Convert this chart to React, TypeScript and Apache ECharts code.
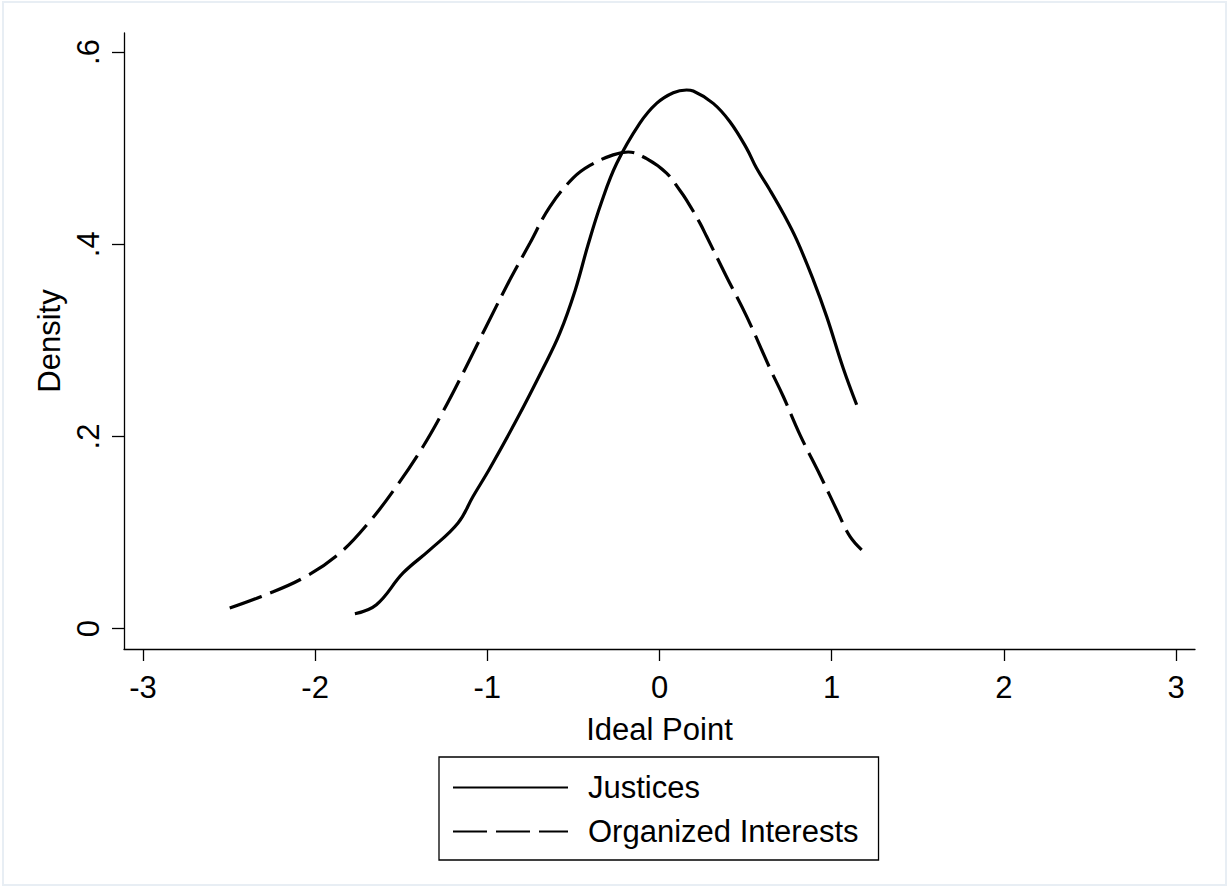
import React, { useEffect, useRef } from "react";
import * as echarts from "echarts";

const seriesNames = ["Justices", "Organized Interests"];

const justicesX = [-1.769, -1.644, -1.489, -1.334, -1.17, -1.083, -0.985, -0.83, -0.676, -0.579, -0.49, -0.414, -0.339, -0.249, -0.114, -0.017, 0.08, 0.157, 0.196, 0.312, 0.409, 0.506, 0.564, 0.641, 0.719, 0.797, 0.893, 0.971, 1.067, 1.145];
const justicesY = [0.0156, 0.025, 0.058, 0.082, 0.11, 0.1376, 0.167, 0.2173, 0.271, 0.3075, 0.352, 0.4, 0.4427, 0.484, 0.526, 0.5466, 0.5577, 0.5605, 0.5594, 0.5466, 0.5275, 0.4998, 0.479, 0.4565, 0.432, 0.4045, 0.363, 0.3247, 0.271, 0.233];

const interestsX = [-2.496, -2.312, -2.07, -1.857, -1.683, -1.528, -1.373, -1.257, -1.141, -1.005, -0.869, -0.753, -0.637, -0.501, -0.404, -0.269, -0.182, -0.075, 0.041, 0.119, 0.157, 0.235, 0.274, 0.39, 0.506, 0.641, 0.719, 0.816, 0.932, 1.038, 1.106, 1.174];
const interestsY = [0.0215, 0.0336, 0.0527, 0.0787, 0.1116, 0.148, 0.1896, 0.226, 0.266, 0.315, 0.363, 0.401, 0.439, 0.469, 0.482, 0.493, 0.496, 0.489, 0.474, 0.456, 0.446, 0.422, 0.408, 0.366, 0.325, 0.271, 0.2416, 0.2017, 0.16, 0.1203, 0.096, 0.082];

const xTickValues = [-3, -2, -1, 0, 1, 2, 3];
const yTickValues = [0, 0.2, 0.4, 0.6];
const yTickLabels = ["0", ".2", ".4", ".6"];

const FONT = "'Liberation Sans', Arial, Helvetica, sans-serif";

export default function App() {
  const ref = useRef<HTMLDivElement>(null);
  useEffect(() => {
    if (!ref.current) return;
    const chart = echarts.init(ref.current, null, { renderer: "svg" });
    const pair = (xs: number[], ys: number[]) => xs.map((x, i) => [x, ys[i]]);
    chart.setOption({
      animation: false,
      backgroundColor: "#ffffff",
      textStyle: { fontFamily: FONT },
      graphic: [
        {
          type: "rect",
          shape: { x: 3, y: 2, width: 1223, height: 883 },
          style: { fill: "none", stroke: "#e8eef4", lineWidth: 2 },
          silent: true,
        },
      ],
      grid: { left: 124, right: 33, top: 33, bottom: 239, containLabel: false },
      legend: {
        orient: "vertical",
        left: 439,
        top: 757,
        itemWidth: 115,
        itemHeight: 30,
        itemGap: 13,
        padding: [15, 20, 13, 13],
        borderColor: "#000",
        borderWidth: 1.3,
        selectedMode: false,
        itemStyle: { opacity: 0 },
        textStyle: { fontSize: 31, fontFamily: FONT, color: "#000", padding: [0, 0, 0, 15] },
        data: seriesNames,
      },
      xAxis: {
        type: "value",
        min: -3.11,
        max: 3.11,
        name: "Ideal Point",
        nameLocation: "middle",
        nameGap: 65,
        nameTextStyle: { fontSize: 31, fontFamily: FONT, color: "#000" },
        splitLine: { show: false },
        axisLine: { show: true, onZero: false, lineStyle: { color: "#000", width: 1.3 } },
        axisTick: { show: true, length: 12, customValues: xTickValues, lineStyle: { color: "#000", width: 1.3 } },
        axisLabel: {
          customValues: xTickValues,
          margin: 23,
          fontSize: 31,
          fontFamily: FONT,
          color: "#000",
          formatter: (v: number) => String(v),
        },
      },
      yAxis: {
        type: "value",
        min: -0.0211,
        max: 0.6198,
        name: "Density",
        nameLocation: "middle",
        nameGap: 56,
        nameRotate: 90,
        nameTextStyle: { fontSize: 31, fontFamily: FONT, color: "#000" },
        splitLine: { show: false },
        axisLine: { show: true, onZero: false, lineStyle: { color: "#000", width: 1.3 } },
        axisTick: { show: true, length: 12, customValues: yTickValues, lineStyle: { color: "#000", width: 1.3 } },
        axisLabel: {
          customValues: yTickValues,
          rotate: 90,
          margin: 20,
          fontSize: 31,
          fontFamily: FONT,
          color: "#000",
          formatter: (v: number) => {
            const i = yTickValues.findIndex((t) => Math.abs(t - v) < 1e-9);
            return i >= 0 ? yTickLabels[i] : "";
          },
        },
      },
      series: [
        {
          name: seriesNames[0],
          type: "line",
          data: pair(justicesX, justicesY),
          symbol: "none",
          smooth: 0.4,
          lineStyle: { color: "#000", width: 3.2, type: "solid" },
          itemStyle: { color: "#000" },
        },
        {
          name: seriesNames[1],
          type: "line",
          data: pair(interestsX, interestsY),
          symbol: "none",
          smooth: 0.4,
          lineStyle: { color: "#000", width: 3.2, type: [34, 9], cap: "butt" },
          itemStyle: { color: "#000" },
        },
      ],
    });
    return () => chart.dispose();
  }, []);
  return (
    <div
      ref={ref}
      style={{ position: "fixed", left: 0, top: 0, width: 1228, height: 888, background: "#fff" }}
    />
  );
}
